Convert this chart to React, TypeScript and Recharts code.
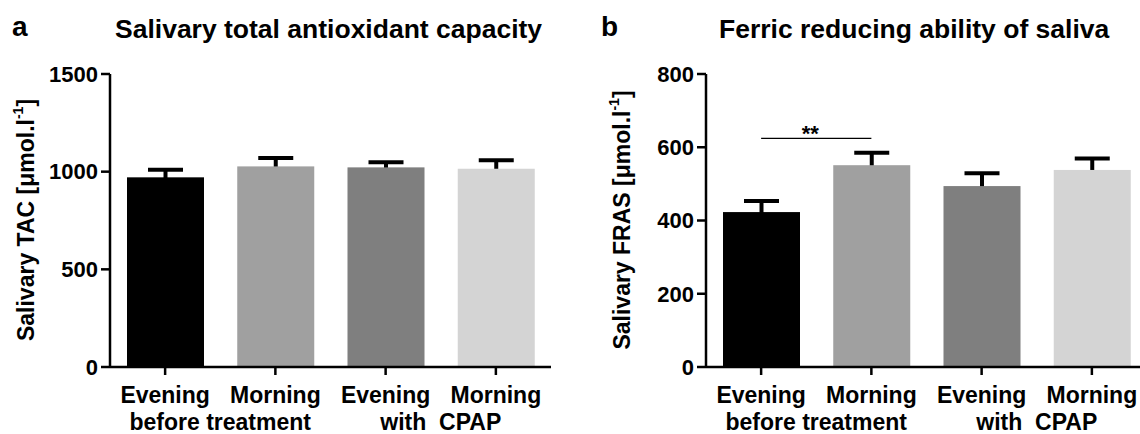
import React from 'react';
import { BarChart, Bar, Cell, XAxis, YAxis, ReferenceLine } from 'recharts';

// categories
const ids = ['eveBefore', 'mornBefore', 'eveCpap', 'mornCpap'];
const timeLabels = ['Evening', 'Morning', 'Evening', 'Morning'];
const conditionLabels = ['before treatment', 'before treatment', 'with\u00a0\u00a0CPAP', 'with\u00a0\u00a0CPAP'];

// panel a: salivary TAC (mean, upper SEM)
const tacMean = [971, 1027, 1022, 1015];
const tacSem = [39, 43, 26, 43];
const tacTicks = [0, 500, 1000, 1500];

// panel b: salivary FRAS
const frasMean = [423, 551, 494, 538];
const frasSem = [30, 34, 35, 31];
const frasTicks = [0, 200, 400, 600, 800];
const frasSigLevel = 624;

const barColors = ['#000000', '#a0a0a0', '#7f7f7f', '#d4d4d4'];

const FONT = '"Liberation Sans", Arial, Helvetica, sans-serif';

interface Row {
  id: string;
  time: string;
  condition: string;
  mean: number;
  sem: number;
}

const buildRows = (mean: number[], sem: number[]): Row[] =>
  ids.map((id, i) => ({ id, time: timeLabels[i], condition: conditionLabels[i], mean: mean[i], sem: sem[i] }));

// bar with an upper error bar drawn behind it
const BarWithError = (props: any) => {
  const { x, y, width, height, fill, payload } = props;
  const perUnit = payload.mean ? height / payload.mean : 0;
  const top = y - payload.sem * perUnit;
  const cx = x + width / 2;
  return (
    <g>
      <line x1={cx} x2={cx} y1={top} y2={y + 3} stroke="#000" strokeWidth={4} />
      <line x1={cx - 17.5} x2={cx + 17.5} y1={top} y2={top} stroke="#000" strokeWidth={4} />
      <rect x={x} y={y} width={width} height={height} fill={fill} />
    </g>
  );
};

interface PanelProps {
  left: number;
  rows: Row[];
  ticks: number[];
  letter: string;
  letterX: number;
  title: string;
  titleX: number;
  yLabel: string;
  sig?: number;
}

const Panel: React.FC<PanelProps> = ({ left, rows, ticks, letter, letterX, title, titleX, yLabel, sig }) => {
  const tickStyle = { fill: '#000', fontSize: 22, fontWeight: 700, fontFamily: FONT };
  return (
    <div style={{ position: 'absolute', left, top: 0, width: 570, height: 434 }}>
      <BarChart width={570} height={434} data={rows} margin={{ top: 74, right: 19, bottom: 7, left: 40 }}>
        <XAxis
          dataKey="id"
          interval={0}
          tickFormatter={(_v: string, i: number) => rows[i] ? rows[i].time : ''}
          axisLine={{ stroke: '#000', strokeWidth: 2.5 }}
          tickLine={{ stroke: '#000', strokeWidth: 2.5 }}
          tickSize={8}
          tickMargin={12}
          height={40}
          tick={{ ...tickStyle, fontSize: 23 }}
        />
        <XAxis
          xAxisId="grp"
          dataKey="condition"
          allowDuplicatedCategory={false}
          interval={0}
          axisLine={false}
          tickLine={false}
          tickSize={0}
          tickMargin={7}
          height={20}
          tick={{ ...tickStyle, fontSize: 23 }}
        />
        <YAxis
          width={70}
          domain={[ticks[0], ticks[ticks.length - 1]]}
          ticks={ticks}
          interval={0}
          axisLine={{ stroke: '#000', strokeWidth: 2.5 }}
          tickLine={{ stroke: '#000', strokeWidth: 2.5 }}
          tickSize={9}
          tickMargin={3}
          tick={tickStyle}
        />
        <Bar dataKey="mean" barSize={77} shape={BarWithError} isAnimationActive={false}>
          {rows.map((r, i) => (
            <Cell key={r.id} fill={barColors[i]} />
          ))}
        </Bar>
        {sig !== undefined && (
          <ReferenceLine
            segment={[{ x: ids[0], y: sig }, { x: ids[1], y: sig }]}
            stroke="#000"
            strokeWidth={1.2}
            label={{ value: '**', position: 'top', offset: -3, dx: -6, fill: '#000', fontSize: 22, fontWeight: 700, fontFamily: FONT }}
          />
        )}
      </BarChart>
      <svg width={570} height={434} style={{ position: 'absolute', left: 0, top: 0, pointerEvents: 'none' }}>
        <text x={letterX} y={36} fontSize={28} fontWeight={700} fontFamily={FONT} fill="#000">{letter}</text>
        <text x={titleX} y={38} fontSize={26.5} fontWeight={700} fontFamily={FONT} fill="#000">{title}</text>
        <text
          transform="translate(26,220) rotate(-90)"
          textAnchor="middle"
          dominantBaseline="central"
          fontSize={23}
          fontWeight={700}
          fontFamily={FONT}
          fill="#000"
        >
          {yLabel} [μmol.l<tspan dy={-8} fontSize={14}>-1</tspan><tspan dy={8}>]</tspan>
        </text>
      </svg>
    </div>
  );
};

export default function App() {
  return (
    <div style={{ position: 'absolute', left: 0, top: 0, width: 1140, height: 434, overflow: 'hidden', background: '#fff' }}>
      <Panel
        left={0}
        rows={buildRows(tacMean, tacSem)}
        ticks={tacTicks}
        letter="a"
        letterX={12}
        title="Salivary total antioxidant capacity"
        titleX={115}
        yLabel="Salivary TAC"
      />
      <Panel
        left={596}
        rows={buildRows(frasMean, frasSem)}
        ticks={frasTicks}
        letter="b"
        letterX={5}
        title="Ferric reducing ability of saliva"
        titleX={123}
        yLabel="Salivary FRAS"
        sig={frasSigLevel}
      />
    </div>
  );
}
